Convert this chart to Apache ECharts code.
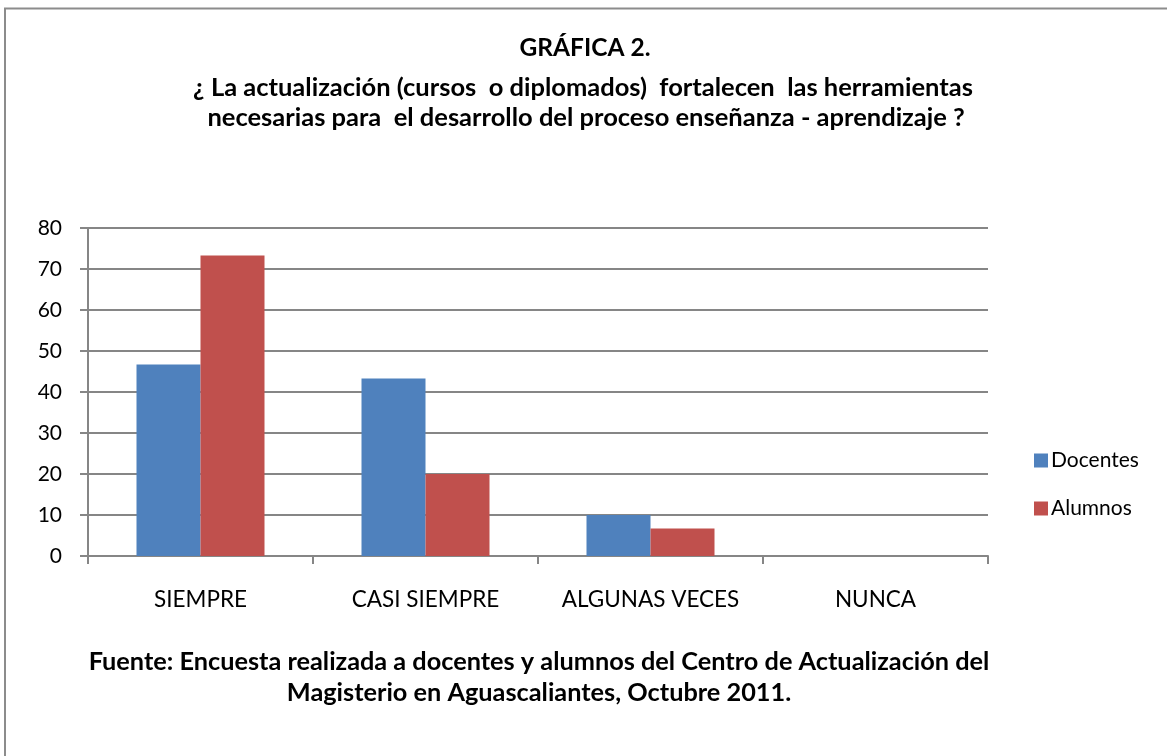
<!DOCTYPE html>
<html>
<head>
<meta charset="utf-8">
<script src="https://cdn.jsdelivr.net/npm/echarts@6/dist/echarts.min.js"></script>
<style>
html,body{margin:0;padding:0;background:#fff;}
#chart{width:1167px;height:756px;}
</style>
</head>
<body>
<div id="chart"></div>
<script>
const categories = ['SIEMPRE', 'CASI SIEMPRE', 'ALGUNAS VECES', 'NUNCA'];
const docentes = [46.7, 43.3, 10, 0];
const alumnos = [73.3, 20, 6.7, 0];
const seriesNames = ['Docentes', 'Alumnos'];
const titleText = 'GRÁFICA 2.';
const subtitleText = '¿ La actualización (cursos  o diplomados)  fortalecen  las herramientas\n necesarias para  el desarrollo del proceso enseñanza - aprendizaje ?';
const sourceText = 'Fuente: Encuesta realizada a docentes y alumnos del Centro de Actualización del\nMagisterio en Aguascaliantes, Octubre 2011.';

const FONT = 'Lato, "Noto Sans", sans-serif';
const chart = echarts.init(document.getElementById('chart'));
chart.setOption({
  backgroundColor: '#fff',
  animation: false,
  textStyle: { fontFamily: FONT, color: '#000' },
  graphic: [{
    type: 'rect',
    shape: { x: 5, y: 8.5, width: 1300, height: 900 },
    style: { fill: 'none', stroke: '#8c8c8c', lineWidth: 2 },
    silent: true
  }],
  title: [
    { text: titleText, left: 580, top: 31, textAlign: 'center',
      textStyle: { fontFamily: FONT, fontSize: 24.5, fontWeight: 'bold', color: '#000' } },
    { text: subtitleText, left: 578, top: 68, textAlign: 'center',
      textStyle: { fontFamily: FONT, fontSize: 25.5, fontWeight: 'bold', color: '#000', lineHeight: 30 } },
    { text: sourceText, left: 534, top: 641, textAlign: 'center',
      textStyle: { fontFamily: FONT, fontSize: 25.3, fontWeight: 'bold', color: '#000', lineHeight: 31 } }
  ],
  legend: {
    orient: 'vertical',
    left: 1029,
    top: 445,
    itemWidth: 14,
    itemHeight: 14,
    itemGap: 27,
    icon: 'rect',
    data: seriesNames,
    textStyle: { fontFamily: FONT, fontSize: 21, color: '#000', padding: [0, 0, 0, -2] }
  },
  grid: { left: 88, right: 179, top: 228, bottom: 200, containLabel: false },
  xAxis: {
    type: 'category',
    data: categories,
    axisLine: { lineStyle: { color: '#868686', width: 2 } },
    axisTick: { show: true, interval: 0, length: 8, lineStyle: { color: '#868686', width: 2 } },
    axisLabel: { interval: 0, fontFamily: FONT, fontSize: 22.5, color: '#000', margin: 32 }
  },
  yAxis: {
    type: 'value',
    min: 0,
    max: 80,
    interval: 10,
    axisLine: { show: true, lineStyle: { color: '#868686', width: 2 } },
    axisTick: { show: true, length: 8, lineStyle: { color: '#868686', width: 2 } },
    splitLine: { show: true, lineStyle: { color: '#868686', width: 2 } },
    axisLabel: { fontFamily: FONT, fontSize: 21, color: '#000', margin: 26 }
  },
  series: [
    { name: seriesNames[0], type: 'bar', data: docentes, barWidth: 64, barGap: '0%',
      itemStyle: { color: '#4f81bd' } },
    { name: seriesNames[1], type: 'bar', data: alumnos, barWidth: 64, barGap: '0%',
      itemStyle: { color: '#c0504d' } }
  ]
});
</script>
</body>
</html>
